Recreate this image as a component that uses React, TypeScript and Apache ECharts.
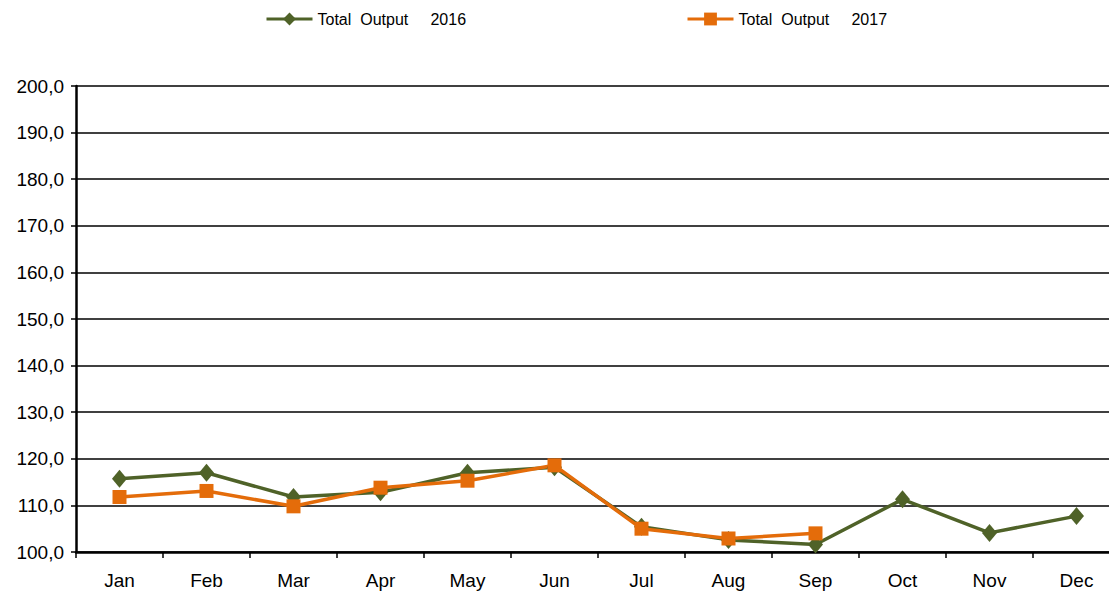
import React, { useEffect, useRef } from "react";
import * as echarts from "echarts";

const months = ["Jan", "Feb", "Mar", "Apr", "May", "Jun", "Jul", "Aug", "Sep", "Oct", "Nov", "Dec"];
const output2016 = [115.7, 117.0, 111.8, 112.8, 117.0, 118.2, 105.4, 102.6, 101.6, 111.3, 104.1, 107.7];
const output2017 = [111.8, 113.1, 109.8, 113.8, 115.3, 118.6, 105.0, 102.9, 104.0];
const seriesNames = ["Total  Output     2016", "Total  Output     2017"];

const FONT = "'Liberation Sans Narrow', 'Arial Narrow', 'Liberation Sans', sans-serif";

export default function App() {
  const ref = useRef<HTMLDivElement>(null);
  useEffect(() => {
    document.body.style.margin = "0";
    const chart = echarts.init(ref.current!, null, { renderer: "svg" });
    const legendBase = {
      top: 6,
      itemWidth: 46,
      itemHeight: 16,
      itemGap: 4,
      lineStyle: { width: 3 },
      textStyle: { fontFamily: FONT, fontSize: 16, color: "#000" },
    };
    chart.setOption({
      animation: false,
      backgroundColor: "#ffffff",
      legend: [
        { ...legendBase, data: [seriesNames[0]], left: 260 },
        { ...legendBase, data: [seriesNames[1]], left: 681 },
      ],
      grid: { left: 76, right: 0, top: 86, height: 466, containLabel: false },
      xAxis: {
        type: "category",
        data: months,
        boundaryGap: true,
        axisLine: { lineStyle: { color: "#000", width: 2.5 } },
        axisTick: { show: true, length: 6, lineStyle: { color: "#000", width: 1.5 } },
        axisLabel: { fontFamily: FONT, fontSize: 19, color: "#000", margin: 19 },
        splitLine: { show: false },
      },
      yAxis: {
        type: "value",
        min: 100,
        max: 200,
        interval: 10,
        axisLine: { show: true, lineStyle: { color: "#000", width: 2.5 } },
        axisTick: { show: true, length: 5, lineStyle: { color: "#000", width: 1.5 } },
        axisLabel: {
          fontFamily: FONT,
          fontSize: 19,
          color: "#000",
          margin: 12,
          formatter: (v: number) => v.toFixed(1).replace(".", ","),
        },
        splitLine: { show: true, lineStyle: { color: "#000", width: 1.5 } },
      },
      series: [
        {
          name: seriesNames[0],
          type: "line",
          data: output2016,
          color: "#4f6228",
          symbol: "diamond",
          symbolSize: [15, 18],
          lineStyle: { width: 3.5, color: "#4f6228" },
          itemStyle: { color: "#4f6228" },
        },
        {
          name: seriesNames[1],
          type: "line",
          data: output2017,
          color: "#e46c0a",
          symbol: "rect",
          symbolSize: 14,
          lineStyle: { width: 3.5, color: "#e46c0a" },
          itemStyle: { color: "#e46c0a" },
        },
      ],
    });
    return () => chart.dispose();
  }, []);
  return (
    <div style={{ width: 1109, height: 594, overflow: "hidden", position: "relative" }}>
      <div ref={ref} style={{ width: 1120, height: 594 }} />
    </div>
  );
}
